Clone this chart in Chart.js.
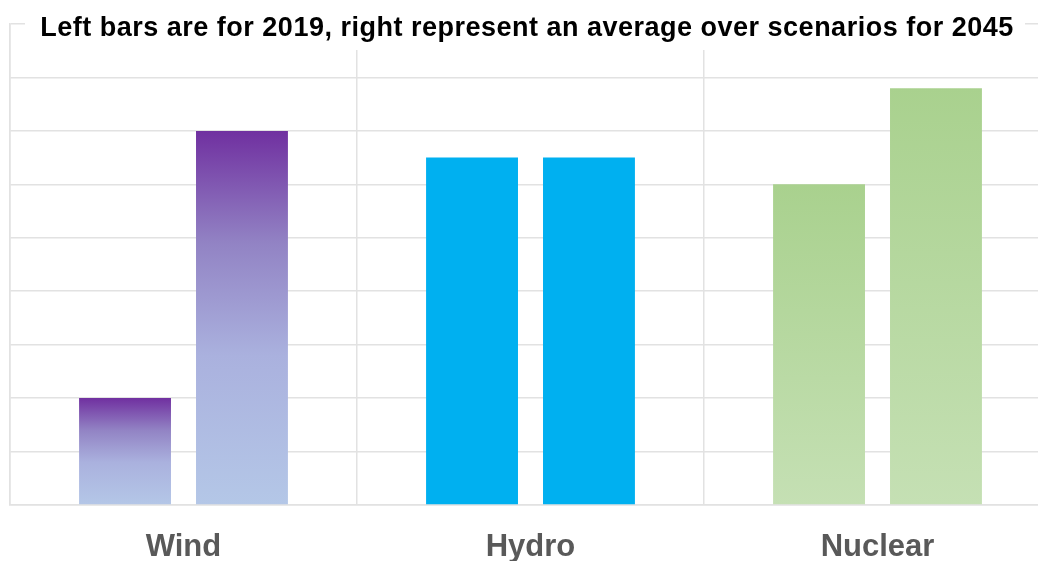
<!DOCTYPE html>
<html>
<head>
<meta charset="utf-8">
<script src="https://cdn.jsdelivr.net/npm/chart.js@4"></script>
<style>
  html, body { margin: 0; padding: 0; background: #fff; overflow: hidden; }
  #wrap { position: relative; width: 1052px; height: 561px; }
</style>
</head>
<body>
<div id="wrap"><canvas id="energyChart"></canvas></div>
<script>
const categories = ['Wind', 'Hydro', 'Nuclear'];
const values2019 = [2, 6.5, 6];
const values2045 = [7, 6.5, 7.8];
const titleText = 'Left bars are for 2019, right represent an average over scenarios for 2045';

// colour stops per category (top -> bottom), null means solid
const barGradients = {
    Wind: [[0, '#7030A0'], [0.3, '#9283C4'], [0.6, '#AAB1DE'], [1, '#B4C7E7']],
    Hydro: null,
    Nuclear: [[0, '#A9D18E'], [1, '#C5E0B4']]
};
const solidColors = { Hydro: '#00B0F0' };

function barFill(context) {
    const chart = context.chart;
    const cat = categories[context.dataIndex];
    const stops = barGradients[cat];
    if (!stops) return solidColors[cat];
    if (!chart.chartArea || !context.parsed) return stops[0][1];
    const yScale = chart.scales.y;
    const top = yScale.getPixelForValue(context.parsed.y);
    const bottom = yScale.getPixelForValue(0);
    const g = chart.ctx.createLinearGradient(0, top, 0, bottom);
    stops.forEach(s => g.addColorStop(s[0], s[1]));
    return g;
}

// title sits on a white box over the top grid line
const titleBox = {
    id: 'titleBox',
    afterDraw(chart) {
        const ctx = chart.ctx;
        ctx.save();
        ctx.fillStyle = '#fff';
        ctx.fillRect(25, 0, 1000, 50);
        ctx.fillStyle = '#000';
        ctx.font = 'bold 27px "Liberation Sans", Arial, sans-serif';
        ctx.letterSpacing = '0.5px';
        ctx.textAlign = 'center';
        ctx.textBaseline = 'middle';
        ctx.fillText(titleText, 527, 29);
        ctx.restore();
    }
};

const ctx = document.getElementById('energyChart').getContext('2d');
const energyChart = new Chart(ctx, {
    type: 'bar',
    data: {
        labels: categories,
        datasets: [{
            label: '2019',
            data: values2019,
            backgroundColor: barFill,
            borderWidth: 0
        }, {
            label: '2045',
            data: values2045,
            backgroundColor: barFill,
            borderWidth: 0
        }]
    },
    options: {
        responsive: true,
        maintainAspectRatio: false,
        animation: false,
        categoryPercentage: 0.674,
        barPercentage: 0.786,
        layout: { padding: { left: 10, top: 24, right: 1, bottom: 0 } },
        plugins: {
            legend: { display: false },
            title: { display: false },
            tooltip: { enabled: false }
        },
        scales: {
            x: {
                grid: { color: '#E2E2E2', lineWidth: 1.5, drawTicks: false },
                border: { color: '#E2E2E2', width: 1.5 },
                ticks: {
                    color: '#595959',
                    padding: 24,
                    font: { family: '"Liberation Sans", Arial, sans-serif', size: 31, weight: 'bold' }
                },
                afterFit(scale) { scale.height = 56; }
            },
            y: {
                min: 0,
                max: 9,
                ticks: { display: false, stepSize: 1 },
                grid: { color: '#E2E2E2', lineWidth: 1.5, drawTicks: false },
                border: { color: '#E2E2E2', width: 1.5 }
            }
        }
    },
    plugins: [titleBox]
});
</script>
</body>
</html>
